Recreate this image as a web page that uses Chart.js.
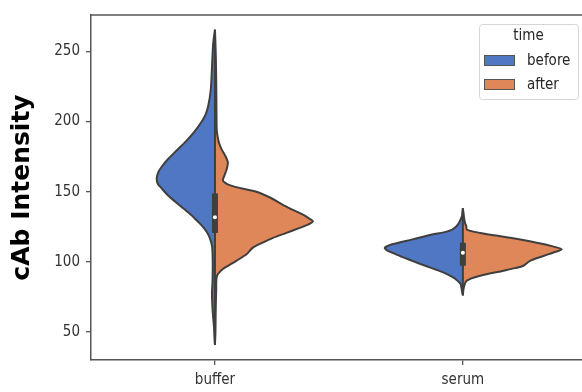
<!DOCTYPE html>
<html>
<head>
<meta charset="utf-8">
<script src="https://cdn.jsdelivr.net/npm/chart.js@4.4.1/dist/chart.umd.min.js"></script>
<style>
  html, body { margin: 0; padding: 0; background: #ffffff; overflow: hidden; }
  #wrap { width: 582px; height: 392px; overflow: hidden; }
  #chart { filter: blur(0.35px); }
</style>
</head>
<body>
<div id="wrap"><canvas id="chart" width="600" height="392"></canvas></div>
<script>
// ---- data ----
const categories = ['buffer', 'serum'];
const hues = ['before', 'after'];
const yTicks = [50, 100, 150, 200, 250];

// Split-violin outlines: intensity value and kernel-density half width (category units)
const bufferBeforeY = [265.5, 256, 246.5, 235, 222.5, 211.3, 205, 199.3, 192.3, 185.2, 179, 173.5, 168.5, 164.1, 159.4, 155.5, 152.4, 147.5, 143, 138, 133.6, 128.9, 124.2, 119.5, 115, 110.1, 100, 93.7, 85, 78, 70.4, 62, 53.7, 46, 40.8];
const bufferBeforeW = [0, .007, .010, .013, .017, .027, .038, .056, .085, .121, .157, .188, .212, .228, .235, .230, .215, .190, .161, .127, .097, .070, .045, .027, .017, .011, .009, .009, .010, .012, .011, .008, .004, .002, 0];

const bufferAfterY = [265.5, 250, 230, 210, 195, 190, 185, 180.5, 175.5, 171.1, 168, 165.3, 161.5, 158.2, 156.5, 154.7, 152.5, 150, 145.5, 140.6, 137, 133.6, 131, 128.9, 126.5, 124.2, 120.5, 117.1, 113.5, 110.1, 105.4, 100.7, 97.5, 94.9, 91.3, 88, 80, 65, 50, 40.8];
const bufferAfterW = [0, .003, .005, .006, .007, .010, .016, .026, .042, .052, .050, .046, .038, .032, .040, .059, .105, .167, .226, .274, .315, .355, .379, .395, .375, .342, .286, .234, .190, .153, .127, .086, .056, .032, .012, .006, .005, .003, .002, 0];

const serumBeforeY = [138.2, 135, 132.4, 127.7, 125, 123, 121, 119.5, 116, 112.5, 110.1, 108.2, 106.5, 103.5, 100.7, 97, 93.7, 90.5, 87.8, 84.3, 79.6, 76.1];
const serumBeforeW = [0, .002, .004, .016, .028, .043, .077, .124, .204, .285, .315, .306, .285, .246, .204, .149, .097, .056, .030, .010, .004, 0];

const serumAfterY = [138.2, 134, 130, 127, 125.4, 123, 120.6, 117.1, 113.6, 111, 108.9, 106.5, 104.2, 100.7, 97.2, 95.5, 93.7, 90.1, 86.6, 81.9, 76.1];
const serumAfterW = [0, .003, .006, .010, .014, .016, .070, .191, .298, .363, .399, .363, .325, .271, .244, .210, .164, .070, .016, .004, 0];

// Inner box: [lower whisker, q1, median, q3, upper whisker]
const bufferBox = [40.8, 120.6, 131.7, 148.8, 265.5];
const serumBox = [76.1, 97.2, 106.5, 113.6, 138.2];

// ---- styling ----
const BLUE = '#5077c3';
const ORANGE = '#df8758';
const EDGE = '#3f3f3f';
const AXIS = '#555555';
const TEXT = '#333333';
const TICK_FONT = "'DejaVu Sans Condensed', 'DejaVu Sans', sans-serif";

function halfViolin(catIndex, side, ys, ws, color) {
  return {
    type: 'scatter',
    showLine: true,
    data: ys.map((y, i) => ({ x: catIndex + side * ws[i], y })),
    backgroundColor: color,
    borderColor: EDGE,
    borderWidth: 2,
    fill: 'shape',
    tension: 0.3,
    pointRadius: 0,
    pointHoverRadius: 0,
    order: 5
  };
}

function innerBox(catIndex, box) {
  return [
    {
      type: 'scatter', showLine: true,
      data: [{ x: catIndex, y: box[0] }, { x: catIndex, y: box[4] }],
      borderColor: EDGE, borderWidth: 2, pointRadius: 0, fill: false, order: 3
    },
    {
      type: 'scatter', showLine: true,
      data: [{ x: catIndex, y: box[1] }, { x: catIndex, y: box[3] }],
      borderColor: EDGE, borderWidth: 6, borderCapStyle: 'butt', pointRadius: 0, fill: false, order: 2
    },
    {
      type: 'scatter',
      data: [{ x: catIndex, y: box[2] }],
      backgroundColor: '#ffffff', borderWidth: 0, pointRadius: 2, order: 1
    }
  ];
}

const datasets = [
  halfViolin(0, -1, bufferBeforeY, bufferBeforeW, BLUE),
  halfViolin(0, 1, bufferAfterY, bufferAfterW, ORANGE),
  halfViolin(1, -1, serumBeforeY, serumBeforeW, BLUE),
  halfViolin(1, 1, serumAfterY, serumAfterW, ORANGE),
  ...innerBox(0, bufferBox),
  ...innerBox(1, serumBox)
];

// Visible width of the page; the plot runs on past its right edge
const VIEW_W = 582;

// Top spine and the "time" legend box
const framePlugin = {
  id: 'frame',
  afterDraw(chart) {
    const { ctx, chartArea: a } = chart;
    ctx.save();
    ctx.strokeStyle = AXIS;
    ctx.lineWidth = 1.5;
    ctx.beginPath();
    ctx.moveTo(a.left, a.top);
    ctx.lineTo(a.right, a.top);
    ctx.stroke();

    // legend
    const w = 99, h = 75;
    const x0 = VIEW_W - 4 - w, y0 = a.top + 9;
    ctx.fillStyle = 'rgba(255,255,255,0.85)';
    ctx.strokeStyle = '#d6d6d6';
    ctx.lineWidth = 1;
    ctx.beginPath();
    ctx.roundRect(x0 + 0.5, y0 + 0.5, w, h, 3);
    ctx.fill();
    ctx.stroke();

    ctx.font = '15px ' + TICK_FONT;
    ctx.fillStyle = '#262626';
    ctx.textBaseline = 'middle';
    ctx.textAlign = 'center';
    ctx.fillText('time', x0 + w / 2, y0 + 12);

    const colors = [BLUE, ORANGE];
    hues.forEach((label, i) => {
      const sy = y0 + 31 + i * 24;
      ctx.fillStyle = colors[i];
      ctx.fillRect(x0 + 5, sy, 31, 11);
      ctx.strokeStyle = '#555';
      ctx.lineWidth = 1;
      ctx.strokeRect(x0 + 5.5, sy + 0.5, 30, 10);
      ctx.fillStyle = '#262626';
      ctx.textAlign = 'left';
      ctx.fillText(label, x0 + 48, sy + 6);
    });
    ctx.restore();
  }
};

new Chart(document.getElementById('chart'), {
  type: 'scatter',
  data: { datasets },
  plugins: [framePlugin],
  options: {
    responsive: false,
    animation: false,
    events: [],
    layout: { padding: { top: 11, left: 0, right: 0, bottom: 0 } },
    plugins: { legend: { display: false }, tooltip: { enabled: false } },
    scales: {
      x: {
        type: 'linear',
        min: -0.5,
        max: 1.537,
        afterFit(scale) { scale.height = 32; },
        afterBuildTicks(scale) { scale.ticks = categories.map((c, i) => ({ value: i })); },
        ticks: {
          callback: (v) => categories[v],
          font: { family: TICK_FONT, size: 15 },
          color: TEXT,
          padding: 6,
          maxRotation: 0
        },
        grid: { drawOnChartArea: false, drawTicks: true, tickLength: 5, color: AXIS, lineWidth: 1.3 },
        border: { display: true, color: AXIS, width: 1.5 }
      },
      y: {
        type: 'linear',
        min: 30,
        max: 276,
        afterFit(scale) { scale.width = 91; },
        afterBuildTicks(scale) { scale.ticks = yTicks.map(v => ({ value: v })); },
        ticks: {
          font: { family: TICK_FONT, size: 15 },
          color: TEXT,
          padding: 6
        },
        grid: { drawOnChartArea: false, drawTicks: true, tickLength: 5, color: AXIS, lineWidth: 1.3 },
        border: { display: true, color: AXIS, width: 1.5 },
        title: {
          display: true,
          text: 'cAb Intensity',
          color: '#000000',
          font: { family: "'DejaVu Sans', sans-serif", size: 25, weight: 'bold' },
          padding: { top: 7, bottom: 0 }
        }
      }
    }
  }
});
</script>
</body>
</html>
